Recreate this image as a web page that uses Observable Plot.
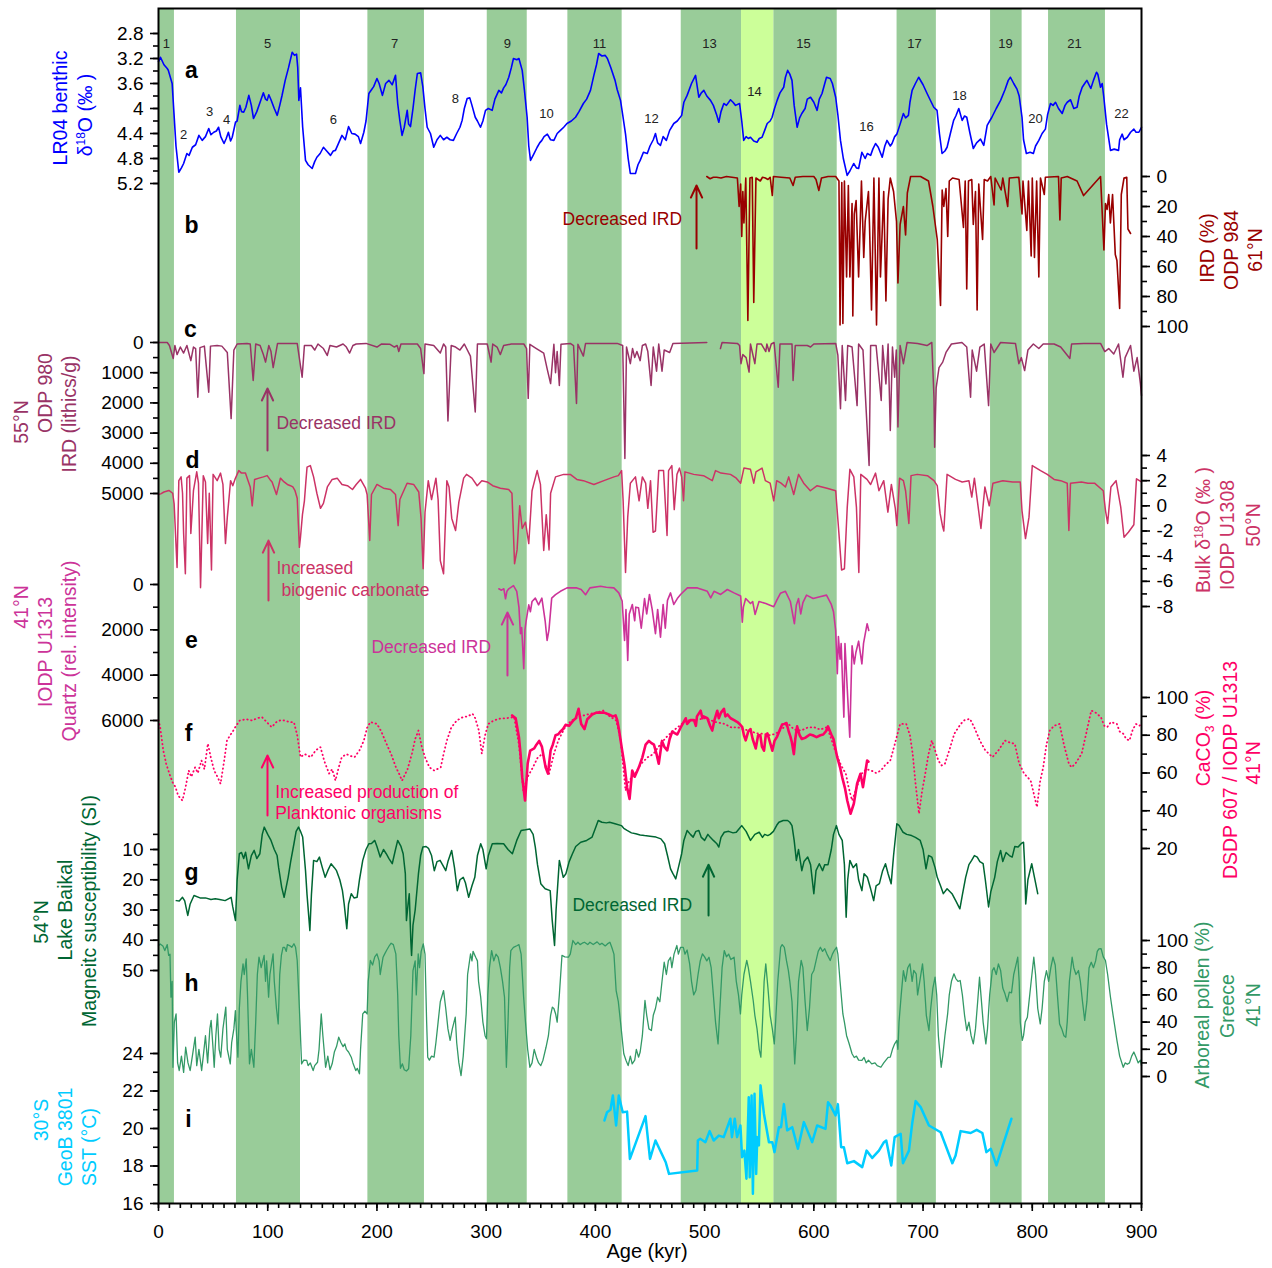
<!DOCTYPE html>
<html><head><meta charset="utf-8">
<script src="https://cdn.jsdelivr.net/npm/d3@7"></script>
<script src="https://cdn.jsdelivr.net/npm/@observablehq/plot@0.6"></script>
<style>
body{margin:0;background:#fff;}
#chart{position:relative;width:1272px;height:1268px;font-family:"Liberation Sans",Arial,sans-serif;}
#chart svg{position:absolute;left:0;top:0;overflow:visible;font-family:"Liberation Sans",Arial,sans-serif;}
.ttl{position:absolute;white-space:nowrap;font-size:19.5px;line-height:1;transform:translate(-50%,-50%) rotate(-90deg);}
.ttl sup,.ttl sub{font-size:12px;}
</style>
</head><body><div id="chart"></div>
<script>
// ---------- DATA ----------
const interglacials = [[0,14.6],[71.4,130],[191.7,243.5],[301,337.6],[374.8,424.5],[478.6,533.8],[563.3,621.4],[676.2,712.2],[761.8,790.7],[814.9,867]];
const mis14 = [[533.8,563.3]];
const misLabels = [["1",7.3,2.96],["2",22.9,4.42],["3",46.7,4.06],["4",62.3,4.18],["5",99.8,2.96],["6",160.2,4.18],["7",216.1,2.96],["8",271.9,3.84],["9",319.5,2.96],["10",355.2,4.08],["11",403.8,2.96],["12",451.4,4.16],["13",504.5,2.96],["14",545.7,3.73],["15",590.5,2.96],["16",648.2,4.29],["17",692.2,2.96],["18",733.4,3.79],["19",775.5,2.96],["20",803,4.16],["21",838.7,2.96],["22",881.7,4.08]];

const lr04 = [[0,3.25],[1.8,3.18],[5,3.3],[8,3.36],[9,3.39],[12.5,3.6],[14,4.03],[16,4.6],[18.6,5.02],[21,4.95],[23,4.88],[26,4.72],[28,4.75],[31,4.62],[34,4.58],[37,4.43],[40,4.51],[43,4.45],[46,4.32],[48,4.42],[50.6,4.38],[53,4.36],[55,4.3],[57,4.45],[60,4.56],[62,4.48],[64,4.38],[66,4.52],[67.5,4.46],[70.5,4.22],[72,4.2],[74.5,3.95],[76,4.05],[78,4.06],[80,3.98],[82.7,3.79],[85,3.95],[87,4.16],[90,4.05],[93,3.9],[96,3.75],[98,3.85],[99.5,3.87],[101,3.78],[103,3.86],[106,4.0],[108.7,4.11],[111,3.95],[113,3.8],[116,3.55],[119,3.35],[122.4,3.1],[124.5,3.15],[126.4,3.13],[127.5,3.35],[128.5,3.87],[130,3.67],[132,4.3],[134.6,4.83],[137,4.9],[140.7,4.96],[143,4.85],[145,4.78],[148,4.72],[151,4.62],[154,4.68],[157.5,4.75],[160,4.68],[162,4.67],[165,4.55],[168,4.43],[171,4.5],[174,4.29],[177,4.4],[180,4.41],[183,4.45],[185,4.56],[188,4.38],[190,4.2],[192.6,3.76],[195,3.7],[197,3.65],[200,3.52],[202,3.6],[205,3.79],[208,3.6],[211,3.55],[214,3.62],[217,3.47],[219,3.92],[221,4.2],[223,4.43],[225,4.3],[227.7,4.03],[229,4.25],[230.7,4.29],[233,4.0],[235,3.7],[237,3.44],[240,3.43],[242,3.65],[244,4.0],[246,4.3],[249,4.4],[252,4.62],[255,4.5],[258,4.43],[261,4.5],[264,4.46],[267,4.5],[270,4.51],[273,4.4],[276,4.3],[278,4.19],[280,4.0],[282.6,3.84],[285,3.83],[287,3.95],[290,4.14],[292,4.2],[294.8,4.3],[297,4.2],[299.4,4.03],[302,4.0],[305.5,4.03],[308,3.85],[311.6,3.71],[314,3.75],[316,3.67],[318,3.62],[320.7,3.5],[323,3.35],[325,3.2],[328,3.22],[330,3.2],[333,3.39],[335,3.7],[337.5,4.14],[339,4.6],[340.6,4.83],[343,4.75],[346.7,4.62],[349,4.55],[351,4.51],[353,4.45],[356,4.41],[359,4.5],[362,4.51],[365,4.4],[368,4.35],[371,4.3],[374,4.24],[378,4.2],[381.8,4.14],[385,4.05],[389,3.92],[392,3.85],[395.5,3.71],[398.6,3.47],[401,3.3],[403,3.12],[406,3.16],[409,3.15],[411,3.2],[414,3.34],[418,3.55],[420,3.7],[423,3.87],[425,4.1],[427.6,4.41],[430,4.8],[432,5.04],[436.7,5.04],[439,4.9],[441,4.83],[444,4.7],[447.5,4.72],[450,4.6],[453,4.5],[455,4.4],[457,4.55],[459.6,4.59],[462,4.45],[465,4.51],[468,4.35],[471.8,4.24],[475,4.2],[479,4.11],[481,3.9],[484,3.79],[488,3.6],[491.7,3.47],[494.7,3.82],[497,3.75],[499.3,3.71],[502,3.8],[505.4,3.87],[508,3.95],[511,4.1],[513,4.22],[515,4.05],[517.6,3.92],[520,3.95],[523.7,3.86],[526,3.9],[528.3,3.95],[532,3.92],[534,4.2],[535.8,4.51],[538,4.45],[540,4.48],[542,4.46],[545,4.52],[548,4.54],[550,4.48],[552.6,4.46],[555,4.35],[557.3,4.24],[560,4.2],[561.8,4.14],[564,4.0],[566.4,3.87],[569,3.75],[572.4,3.66],[574,3.5],[576,3.39],[578,3.45],[580,3.55],[582,3.95],[584.7,4.3],[587,4.15],[589,4.08],[592,4.0],[594,3.85],[597,3.82],[600,3.9],[603,4.03],[605,3.85],[607.5,3.76],[610,3.6],[611.6,3.5],[615,3.52],[617,3.6],[620,3.82],[622,4.1],[624.4,4.51],[627,4.8],[630.5,5.07],[633,5.0],[636.5,4.88],[639,4.95],[641,4.96],[644,4.7],[647,4.8],[649,4.72],[652,4.75],[654,4.65],[656.5,4.56],[659,4.62],[662.6,4.78],[665,4.6],[667,4.51],[670,4.6],[671.6,4.56],[674,4.45],[676,4.41],[679,4.25],[682,4.08],[684,4.15],[686.6,4.11],[688,3.9],[690,3.71],[693,3.6],[696,3.5],[700,3.62],[703.7,3.76],[707,3.88],[709.8,3.98],[712.8,4.03],[715,4.4],[717.4,4.72],[720,4.68],[722,4.62],[725,4.4],[728,4.19],[730,4.12],[732.7,4.0],[735.8,4.19],[738,4.12],[740,4.14],[743,4.4],[746,4.64],[749,4.55],[752.6,4.49],[755.6,4.59],[758.7,4.27],[761,4.2],[763,4.14],[767,4.0],[771,3.87],[775,3.7],[778,3.55],[780,3.5],[783,3.6],[786,3.69],[788,3.8],[790.6,4.14],[792,4.5],[794.6,4.72],[798,4.7],[801,4.72],[803,4.6],[806,4.51],[809,4.4],[812,4.33],[814,4.1],[816.7,3.92],[819,3.95],[821.3,3.9],[824,4.0],[827.4,4.08],[830,3.95],[832,3.9],[835,3.86],[838,4.0],[841,3.98],[843,3.8],[845.7,3.66],[848,3.6],[850,3.55],[853.6,3.68],[856,3.55],[858.8,3.42],[860,3.45],[862.5,3.66],[864,3.6],[865.5,3.82],[868,4.25],[871.6,4.67],[875,4.65],[879,4.67],[880,4.5],[882.3,4.41],[884,4.5],[887,4.46],[890,4.38],[893,4.33],[895,4.38],[897.6,4.38],[900,4.3]];

const ird984 = [[502,0],[505,1.5],[508,0.5],[511,0.5],[515,1],[520,0],[525,0.5],[530,1],[531.6,20],[533,5],[534,40],[535,10],[536,31],[537.7,1],[539.6,96],[541.5,1],[543.6,0.5],[545,84],[547,1],[549,2],[551,3],[553,0.5],[555.6,1],[558,2],[560,0.5],[562,12.7],[563,0],[570,0.5],[578,1],[581,6],[583,0.5],[590,0],[600,0],[602,2],[604.6,9.3],[607,1],[613,0],[620,0],[623,3],[624,99],[625.6,4],[626.6,98],[628,3],[630,67],[631.6,6],[633,67],[635,18],[635.7,93],[637,25],[638.7,16],[641,67],[643.6,3],[645.7,54],[647,30],[650,10],[651,33],[652.8,89],[655,1],[657.4,99],[659.6,1],[661,67],[664,10],[666,83],[668,15],[670,1],[673,10],[675.7,30],[677,71],[679,32],[682,20],[684,39],[685.6,11],[688.6,0],[697.7,0],[705,3],[709,20],[713,42],[716,86],[717.5,9],[719,20],[721,8],[722.6,40],[724,3],[727,1],[733,2],[737,34],[738.6,3],[740,75],[741.6,3],[744.6,2],[746,32],[748,10],[749.5,89],[751,5],[754.5,42],[756,2],[759,3],[762,0],[765,19],[766,1],[771.5,9],[773,1],[777.5,20],[779,1],[787.7,0.5],[790.6,25],[791.5,3],[795,36],[796.5,3],[799,53],[800,1],[802,54],[804,3],[806,67],[807.5,1],[811,12],[812,0.5],[824,0],[825.3,29],[826.5,1],[832,0],[841,3],[847,12.7],[862.5,0],[865.6,49],[867,18],[868.5,22],[870,12],[871.5,31],[873.5,12],[876,52],[877.5,56],[880,88],[881.5,12],[884,1],[886.5,0.5],[887.6,35],[890,38]];

const odp980 = [[0,0],[8,0],[10,100],[13.5,530],[15,100],[17,400],[20,150],[23,350],[26,100],[29.6,600],[32,150],[34,200],[36,1810],[38,170],[42,120],[46,1645],[47.6,120],[53.7,100],[58,120],[63,330],[66.5,2520],[69,250],[72,50],[81,30],[84,50],[86.7,1260],[89,50],[93,100],[96,400],[98,650],[101,100],[103,300],[105,830],[109,30],[127,30],[131.5,1150],[133.6,100],[140,100],[143,250],[146,50],[151,200],[154.5,430],[157,100],[163,150],[169,50],[172,150],[175,350],[178,100],[181,50],[190,30],[200,150],[204,50],[212,60],[216,150],[218.5,100],[220,300],[222,50],[237,50],[240,200],[243,1030],[244,50],[252,100],[258,350],[261,50],[263,150],[265,2600],[268,100],[272,150],[276,250],[280,50],[285.6,450],[290,2300],[292,50],[301,50],[304.5,650],[306,50],[310,150],[313,400],[316,100],[323,50],[334.5,50],[337,200],[338.5,1850],[340,60],[346,200],[352.7,350],[356,900],[359,1360],[362,60],[363.5,1000],[365,300],[367,1420],[368.5,60],[377,30],[380,100],[382.7,2020],[384,60],[389,450],[391,30],[420,30],[425,100],[427,3840],[428.5,150],[432,700],[434,200],[436,500],[438,300],[441,600],[443,100],[446,50],[448,300],[451,1420],[453,150],[456,950],[458,50],[461,950],[463,250],[468,330],[471,30],[502,0],[508,NaN],[514.5,200],[516,0],[530,30],[532,100],[533.3,700],[535,400],[538,500],[540.7,980],[542,50],[546,700],[548,50],[552,50],[556,300],[557,50],[559,300],[561,50],[563.6,0],[567.4,1480],[569,50],[580,50],[581,1260],[583,100],[594,100],[597,150],[600,50],[620,30],[622,420],[624.4,2190],[626,100],[629,1920],[631,100],[635,150],[639.6,2090],[641,50],[645,250],[650.6,4070],[652,100],[657,100],[661.7,1920],[663,100],[666,1370],[668,50],[670,2910],[672,150],[674,1150],[675.5,250],[677,2800],[679,100],[682,700],[685.4,0],[695,30],[703.6,100],[708,0],[710,1810],[710.6,3470],[712,1500],[714.6,830],[718,650],[721,330],[726,50],[735.6,0],[740,150],[743.5,1810],[745,250],[749,950],[752,150],[756,50],[760,2090],[762,50],[765,330],[771,0],[784.6,30],[787.7,700],[790,500],[793,930],[796,250],[801,50],[806,200],[810,50],[820,50],[826,150],[834.4,530],[836,50],[847,30],[862.5,30],[866.4,300],[870,200],[874.6,380],[879,50],[883,1150],[885,500],[890,100],[893,950],[896,500],[899,1360],[900,1750]];

const u1308 = [[0,0.9],[2,0.95],[5,1.1],[9.5,1.22],[13,1.0],[14.3,0.18],[17,-4.9],[18.6,2.0],[20.7,2.3],[22,1.0],[23,-2.2],[24.6,-5.4],[26,2.2],[28.4,2.4],[29.6,-2.2],[32,1.2],[35,2.7],[36.6,1.8],[38.5,-6.5],[41,2.4],[43,1.9],[45,-3.0],[46.5,1.0],[48.5,-5.1],[50,2.5],[53.7,2.0],[56.8,2.6],[59,1.7],[61.3,-3.0],[63,-0.9],[66,2.0],[68,1.6],[70,2.1],[73.5,2.8],[76,2.6],[79.6,2.6],[82,2.0],[84,1.5],[85.8,0.0],[88,2.1],[92,2.2],[96,2.3],[99.5,2.4],[102,2.1],[104,1.9],[106,1.4],[108,0.9],[110,1.6],[111.6,2.2],[115,1.9],[118,1.7],[120.8,1.6],[123,1.5],[125,1.2],[127,0.6],[129,-3.3],[130,-2.5],[131.8,-0.7],[133.6,0.4],[135,2.0],[136,3.07],[139,3.2],[142,2.3],[145,1.0],[148.3,-0.2],[151,0.2],[154.6,1.5],[159,2.1],[163.6,2.2],[168,1.7],[173,1.6],[177.6,1.3],[181,1.7],[185,2.1],[189.5,1.4],[191,0.9],[193.4,-2.76],[195,0.9],[200,1.7],[206,1.4],[212.4,1.3],[217,0.9],[219.4,-1.57],[221,0.5],[223,0.9],[227.6,1.8],[233.6,1.7],[238.3,1.1],[240.4,-1.0],[242.3,-5.0],[244,-0.5],[247,2.0],[250,0.5],[254,2.2],[256,0.5],[258,-4.35],[261,-5.4],[264,2.0],[266,1.5],[268.5,-1.0],[272,-1.96],[275,0.3],[279.4,2.2],[282,2.5],[287,2.2],[291.8,1.6],[296,2.0],[301,1.9],[306,1.6],[313,1.4],[320.6,1.3],[323.6,1.0],[326,-4.6],[328.3,-3.5],[330.7,0.0],[333,-1.8],[336,-1.3],[339,-3.0],[342,1.2],[346.7,2.8],[349.7,1.7],[352.7,-3.55],[355,-0.7],[357.6,-3.5],[359,1.0],[363.5,2.3],[371,2.5],[377,2.5],[383,2.1],[389,2.0],[398.6,1.7],[407.8,2.0],[417,2.3],[421,2.4],[424,2.8],[425.4,0.4],[427.6,-5.3],[429.6,-0.9],[432,1.8],[436.7,2.3],[440,0.4],[443,2.3],[446,1.8],[448,-0.2],[450.5,2.0],[452.8,-2.1],[455,-2.0],[458,2.8],[462.4,2.8],[465.6,-2.36],[467,2.8],[470,3.2],[472.2,-0.3],[474.7,2.5],[477,3.0],[479,2.3],[480.7,0.4],[482,2.7],[490,2.5],[499,2.4],[507,2.0],[510,2.8],[515,2.6],[523.7,2.5],[529,2.2],[533,1.8],[536,3.0],[542,2.9],[545,1.8],[547,2.7],[552.6,3.0],[555.6,2.0],[560,1.8],[563.3,0.4],[566,2.0],[570,1.8],[574,1.5],[577,2.3],[581.6,0.9],[586,2.5],[590.7,1.8],[596.8,1.2],[603,1.6],[612,1.4],[620,1.2],[623,-2.23],[625.4,-5.1],[628,-5.0],[630.6,-0.1],[633,2.9],[636.6,2.3],[639,-0.1],[641.2,-5.3],[643,2.5],[648.7,2.1],[652,1.7],[656.5,2.6],[659.6,1.2],[664,2.0],[667.8,-0.5],[671,1.7],[674.6,-0.2],[676,-1.57],[678.5,2.2],[682,2.0],[684,1.2],[687,-1.4],[689,2.4],[694.7,2.5],[704,2.4],[710,2.0],[713,1.6],[715.6,-0.6],[717.8,-1.6],[719,-2.0],[722,2.5],[729.7,2.1],[735.8,1.9],[742,2.0],[744.6,0.7],[747,2.2],[753,-1.8],[756.6,1.5],[760.6,0.0],[764,1.8],[773,2.0],[782,1.9],[789,1.9],[790.6,-0.4],[793.8,-2.6],[797,-0.9],[800,3.2],[807.6,2.8],[813.7,2.5],[820,2.1],[826,2.0],[832,1.8],[833.5,-1.96],[835,1.8],[845,1.9],[851,1.8],[857,1.8],[865,1.2],[867,-0.37],[869,-1.4],[872,1.5],[876.7,2.0],[881,-0.1],[884,-2.5],[888,-2.1],[893,-1.5],[895.4,2.15],[900,1.9]];

const quartz = [[311.6,190],[314,250],[316.2,190],[317.7,630],[319,300],[320.7,190],[325,50],[328,300],[330,1000],[331.4,2170],[332.5,1900],[333.5,2800],[334.4,3720],[335.5,2000],[336.6,1600],[339,900],[340.5,1200],[342,750],[345,600],[348,900],[351,600],[354,1600],[355.8,2470],[357.5,2000],[360,600],[363.5,450],[368,300],[374,150],[383,150],[387,220],[391,450],[395,150],[404.7,80],[410,120],[416.9,150],[421.4,370],[424.5,730],[426.7,2470],[428,1100],[429.6,3350],[431,1300],[433.8,880],[436,1600],[437,1000],[439.5,1030],[442,1930],[445,620],[447,1300],[449.5,440],[452,1100],[455,2170],[457,1100],[459.6,2320],[462,880],[464,1930],[466,700],[468.8,370],[471.8,880],[475,620],[478,440],[484.2,150],[493.4,150],[502.5,300],[505.6,590],[508.6,300],[514.7,440],[520.8,220],[526.9,370],[533,510],[534.5,1660],[535.5,1000],[537.6,620],[542,840],[544,750],[546.2,1320],[549.8,750],[556,840],[563.3,980],[566,700],[569.4,390],[574,300],[578.5,750],[582.2,1730],[584,900],[586,620],[588,1300],[590,800],[593.3,470],[599.4,620],[605.5,540],[611.6,470],[616,880],[618,1200],[620,2030],[621.5,3940],[622.5,2300],[624,3300],[625,2600],[627.5,5850],[628.5,2600],[630.6,4600],[632.9,6740],[635,2700],[637,3500],[638.5,3000],[641,2500],[644,3500],[645.5,2600],[648.8,1730],[650.3,2030]];

const caco3Solid = [[323.8,90.5],[327,89],[330,79],[331.5,70],[333,57.8],[335.6,45.4],[338,65],[340.3,71.9],[344,73],[346,75],[348.5,77],[351,74],[354.4,63],[356.6,59.7],[359,72],[361,75],[363.5,80],[366,80.5],[368,82],[370,83],[372.7,85.5],[376,85],[380,88],[382,89],[384.6,94],[387,86],[390,83.3],[392.6,88.5],[397,91],[401,92],[404.7,92],[408,92],[412.4,91],[416,90],[418.5,90.5],[420,88],[421.5,83.3],[424.5,72],[426.7,64],[429,52.5],[431.3,46.3],[433.7,61.3],[436,58],[439.8,63],[443,68.3],[446,75],[449,77],[451,76],[453.6,75],[456,70],[458,64.9],[461,77],[463,74],[465.8,72],[468,78],[470.4,82],[473,81],[475,80.4],[478,84],[482.7,89],[484,86],[487,88],[490.3,88],[492,85],[493,90],[496.4,93],[498,89],[499,90],[502.5,89],[505,85],[507,82.5],[509,88],[511.6,93],[513,89],[515,92],[517.7,94],[519,90],[521,91],[523.8,89],[527,88],[530,87],[532,86],[534.5,84.3],[536,80],[537.6,77.3],[540,82],[542,83.3],[544,78],[546.8,73],[549,80],[551,80],[552.5,74],[554.4,71.8],[556,80],[557.5,81],[560,76],[562,71.8],[564,77],[566.4,79.3],[569,83],[571,85.7],[573,86],[575,86.5],[577,82],[578.6,79.3],[580,76],[581.7,70],[583,78],[584.7,84.7],[587,80],[589,78],[592,78.6],[596.4,80.4],[599,80],[602.5,79],[606,80],[608.6,80.4],[611,82],[613,84.7],[616,80.4],[618,78],[621.4,68.4],[624,63],[626,57.7],[628.5,52],[630.6,45.4],[633.6,38.4],[636.6,43.7],[639.6,54.3],[642.7,59.6],[645,52.5],[647,60],[648.8,66.6],[650,66]];

const caco3Dotted = [[0,88],[1.5,84.3],[4.4,71.9],[7,65],[10,59.6],[13,55],[15.6,52.5],[18,48],[21.9,45.4],[24.8,52.5],[27.7,61.3],[30,58],[33.5,63],[36,60],[39.4,66.6],[42,62],[45.2,75.5],[48,68],[51,61.3],[54,58],[56.8,54.3],[60,66],[62.7,77.2],[65.6,80],[68.5,82.5],[71,85],[74.4,87.8],[80,88.5],[86,87.8],[90,89],[94.8,89.6],[99,87],[103.6,84.3],[108,87],[112,88],[115.3,87.8],[120,87],[124,86.9],[127,80],[130,68.4],[134,70],[139.5,68.4],[144,72],[148.3,73.7],[152,66],[156.2,59.7],[159,62],[162,56],[165,63],[167.8,68.4],[172,70],[176,69],[179.5,68.4],[184,72],[188,77.2],[191,84],[194,87],[200,86],[204,82],[208.7,75.5],[213,70],[217.4,63],[220,60],[223,56],[228,62],[232,70.2],[235,78],[238,82.5],[241,74],[244,68.4],[248,63],[252.5,61.3],[258.4,63],[261,70],[264,77.2],[268,84],[273,87.8],[278.7,89.6],[283,90],[287.5,91.4],[290,89],[293.3,82.5],[296,70.2],[299,80],[302,86],[306,87.5],[311,88.7],[318,89],[325.6,89.6],[330,75],[334,50.7],[338,58],[342.8,63],[347,68],[351.6,70.2],[354,65],[357.6,59.6],[362,70],[366,77.2],[372,84],[378,87.8],[386,90],[395.5,91.4],[401,92],[407,93.1],[413,90],[419,87.8],[423,78],[427.6,50.7],[431,56],[436.3,59.6],[442,65],[448,68.4],[453,70],[459.8,75.5],[465,79],[471.5,82.5],[477,85],[483,87.8],[490,88],[500.8,89],[510,87],[518.3,86],[525,84],[530,84.3],[536,83],[541.7,82.5],[547,81],[553.4,80.8],[560,80],[565,80.8],[570,83],[576.7,86],[582,83],[588.4,82.5],[594,84],[600,84.3],[606,83],[612,84.3],[616,78],[620.5,70.2],[625,64],[629.3,59.6],[632,52],[635,45.4],[639,52],[643.8,59.6],[648,62],[652.6,61.3],[657,60],[661.4,61.3],[665,64],[670,66.6],[674,75],[679,86],[684.6,86],[688,80],[690.5,70.2],[693,55],[696.3,38.4],[699,50],[702,59.6],[705,70],[708,77.2],[711,72],[714,66.6],[717,64],[720,64.9],[724,72],[728.6,80.8],[734.5,86],[738,88],[743,88.7],[747,84],[752,77.2],[757,72],[763.5,68.4],[769,72],[775,77.2],[780,76],[784,75.5],[788,65],[792.6,59.6],[798.5,56],[801,50],[804.3,41.9],[807,55],[810,63],[813,75],[816,82.5],[820,85],[825,86],[829,75],[833.5,64.9],[836,63],[839.4,64.9],[845.2,70.2],[849,80],[854,93.1],[858,92],[862.8,89.6],[866,85],[868.6,84.3],[872,87],[877.4,86],[880,82],[883.3,80.8],[886,78],[889,77.2],[892,83],[895,86],[898,85],[900,86]];

const baikal = [[16.3,26.9],[19,27],[22,25.8],[24,27],[26.8,31.8],[29,28],[32.5,25.2],[38,26],[43,26],[48,26.5],[52,26.3],[56,26.5],[61,26.9],[66.5,25.8],[68,29],[70.5,33.5],[72,20],[74,11.4],[76,11],[78,13],[79.7,10.9],[82.4,16.4],[85,12],[87.6,10.3],[90,13],[92.8,11.4],[95,5],[96.8,2.6],[100,5],[103,7],[106,10],[108.6,12],[110,16],[112.8,22.5],[115,25.8],[118.7,19.2],[121,14],[124,8.1],[126,4],[128.2,2.6],[130,4],[132,5.9],[134.6,17],[136,25],[138.6,36.8],[140,25],[142,13.6],[145,14],[147.3,12.5],[150,16],[152.6,19.2],[155,17],[158,14.7],[161,16],[163,17],[166,20],[168.4,23.6],[170,28],[172.4,36.2],[174,28],[176.5,24.6],[179,26],[181.8,25.8],[184,20],[187,13.6],[190,10],[192.6,8.1],[195,8],[198,7],[200,9],[203,12.5],[206,10],[208.5,11.4],[211,13],[214,14.7],[217,10],[219,7],[222,9],[224,11.4],[226,18],[227,33.5],[228.5,28],[229.6,24.6],[231,40],[231.7,45],[233,35],[235,30],[238,18],[240,12],[242,9.2],[245,9],[247.2,9.6],[250,12],[252.5,17],[255,14],[257.8,13.6],[260,15],[263,17],[265,14],[268.4,10.3],[271,16],[273.6,23.6],[276,20],[279,19.2],[281,21],[284,25.8],[287,22],[289.6,19.2],[292,12],[295,8.1],[297,10],[300,16.4],[302,12],[305.6,8.1],[310,8],[316,8.1],[320,10],[324,11.4],[328,7],[332,3.7],[336,3.5],[340,3.2],[343,5],[345,9.2],[347,15],[350,21.3],[354,23],[358.6,23.6],[360.5,33.5],[362.6,41.7],[364,30],[367,13.6],[370.6,19.2],[373,18],[376,14],[379,11.4],[382,9],[386.6,7.6],[392,7],[397,5.9],[400,3],[402.6,0.4],[406,1],[410,1.2],[413,1],[418,1.5],[423.8,2.1],[426,3],[429,3.7],[433,4.5],[437,4.8],[441,5.2],[445,5.4],[450,5.6],[455.5,5.9],[460,6.5],[463.4,8.1],[466,12],[468.8,16.4],[471,18],[473.6,19.7],[476,16],[479,11.4],[481,7],[484,3.7],[487,5],[489.5,5.9],[492,4],[494.7,3.7],[497,6],[500,7],[503,5],[505,5.9],[508,7],[511,8],[513,9.2],[515,6],[518,4.3],[522,4],[526,4.5],[529,4.3],[532,3],[534,2.1],[538,4],[542,7],[546,5],[550,4.3],[553,6],[555,5],[557.8,5.4],[560,5],[563,4],[566,2],[568,1],[572,0.4],[576,0.4],[578,1],[580,2.1],[582,7],[584,13.6],[586,10],[589,17],[591,14],[594.4,12.5],[597,15],[600,24.6],[602,17],[605,14.7],[608,17],[610,15],[613,15],[616,10],[618,5],[620.7,2.1],[623,5],[626,7],[628,15],[629.6,32.4],[631,20],[633,13.6],[636,16],[639,14.7],[641,20],[644,23.6],[646,18],[649,19.2],[652,23],[654.8,26.9],[657,22],[660,21.3],[663,17],[665.6,14.7],[668,18],[670.8,21.3],[673,12],[676,1.5],[678,2],[681.7,4.3],[685,5],[689.5,5.4],[693,6],[697.4,7],[700,10],[702.7,16.4],[705,12],[708,12.5],[711,16],[713,19.2],[716,22],[718.6,24.6],[722,23],[726.5,24.6],[730,27],[733.7,29.6],[736,25],[739,19.2],[742,15],[744.5,13.6],[747,12],[749.6,12.5],[752,14],[755,14.7],[757,20],[760,29],[762,24],[765.6,19.2],[768,14],[771,10.3],[773,14],[776,11],[779,12],[781.6,12.5],[784,9],[787,9.2],[790,8],[792,7.6],[793,15],[794,28],[796,20],[799.5,14.7],[802,19.2],[805,24.6]];

const pollen = [[0,96],[1.5,97.5],[4,96],[5.8,92.6],[8,97],[9.3,89],[10.5,90],[11.4,58.3],[12.5,70],[13.2,6.8],[14.5,40],[16.1,46],[17.5,10],[19,4.4],[21,15],[23,3],[24.9,21.5],[27,10],[29,4.4],[31,15],[33.6,28.9],[35,8],[37,20],[39.5,4.4],[41,15],[43,30],[45,10],[47,35],[48.2,41.2],[50,20],[51,6.8],[52.5,30],[54,46],[55.5,20],[57,14.2],[59,35],[61.6,51],[63,20],[65.7,9.3],[67,25],[69,35],[70.4,48.5],[71.5,30],[72.7,14.2],[74,50],[75.5,70],[77.4,82.8],[78.5,75],[80.3,86.5],[81.5,60],[83.3,9.3],[85,20],[87.3,6.8],[89,40],[90.5,75],[92,87.7],[94,80],[96.7,89],[98,70],[99,85],[100.8,58.3],[102,75],[104.9,90.2],[106,70],[108,50],[109.6,38.7],[111,75],[112.5,89],[114,95],[115.4,95],[117,92],[118,97],[120,96.3],[122,95],[124,97.6],[125.5,95],[127,85.3],[129,50],[131,9.3],[133,12],[135.7,11.8],[137,8],[139,10],[141.6,4.4],[143,8],[145.6,10.5],[147,20],[149,46],[150.5,30],[153,6.8],[155,15],[157,5],[159,9.3],[161,18],[163,22],[165,28.9],[167,25],[169,22],[170.6,24],[172,20],[174,18],[176.5,14.2],[178,10],[180.6,4.4],[182,6],[184,2],[185,20],[187,46],[189,48],[191,46],[192,70],[194,85.3],[196,82],[198,88],[200,90.2],[202,85],[203,75],[205.6,87.7],[207,90],[209,93],[211.4,96.3],[213,98],[215,97],[217.3,90.2],[219,60],[220,30],[221.5,6],[223.3,9.3],[225,5],[227,4],[229,5.7],[231,30],[233,77.9],[235,85],[236,60],[237.8,90.2],[239,80],[240.5,92],[242.4,97.5],[244,90],[245.5,40],[246.5,14.2],[248,12],[250,15],[252.3,14.2],[254,25],[256,40],[258,55],[261,63.2],[263,50],[265,35],[267,26.5],[269,35],[271.7,43.6],[273,25],[275,10],[277,0.7],[279,15],[281.7,46],[283,75],[285.7,90.2],[287,85],[288,92],[290.4,87.7],[292,85],[293,70],[295,58.3],[297,40],[299,30],[300.3,27.7],[301.5,60],[303,80],[305,92.6],[307,85],[309,90],[311,87.7],[313,80],[315,70],[316.8,58.3],[318.5,6.8],[320,40],[321.5,80],[322.6,92.6],[325,95],[328.5,96.3],[330,97],[332,90],[334.3,58.3],[336,40],[338,20],[340,6.8],[342,10],[344,20],[346,14.2],[348,10],[350,8],[352,12],[354.8,21.5],[357,30],[359,45],[360.6,51],[362,50],[363.6,46],[365,40],[367,60],[369.4,89],[372,88],[375.3,87.7],[377,90],[379.4,100],[382,97],[384,98.7],[386,97],[388,98],[390,98.7],[393,97],[395,98.7],[398,97],[401.6,99],[404,97],[406,98],[409,96],[411,97.5],[413.3,98.7],[415,95],[417,90],[419,63.2],[421,55],[423,40],[426,16.7],[428,12],[430,8],[432,15],[433.7,9.3],[436,12],[437.5,20],[439.5,14.2],[441,18],[443,30],[445.4,55.9],[447,45],[449,35],[451.3,33.8],[453,45],[455,50],[457,58.3],[459,55],[461,70],[463,84],[465,75],[466.8,85],[468.8,87.7],[470,80],[472,90],[474.6,96.3],[476,90],[478,95],[480.5,95],[482,90],[484,93],[486.3,82.8],[488,70],[490,60],[492,63.2],[494,75],[496,85],[498,90.2],[500,88],[502,85],[504,87.7],[506,80],[508,60],[510,40],[512.3,24],[514,50],[516,80],[518,92.6],[520,88],[522,90],[524,86],[527,87.7],[529,70],[531,60],[532.8,46],[534,60],[536,75],[538.6,85.3],[540,80],[542,70],[544.5,55.9],[546,45],[548,35],[550,20],[551.5,14.2],[553,40],[554.5,70],[556,82.8],[558,65],[560,45],[562,35],[563.8,24],[565,40],[567,70],[569.6,95],[571,97],[573,95],[575,85],[576.7,77.9],[578,70],[580,55],[582.5,9.3],[584,30],[586,70],[588.4,85.3],[590,80],[592,55],[594,33.8],[596,50],[598,75],[600,77.9],[602,85],[604,92],[606,95],[608,92],[610,94],[612,90],[615,85.3],[617,90],[619,93],[620.8,95],[622,90],[624,70],[626.6,46],[628,40],[630,30],[632,25],[635,16.7],[637,14],[639,15],[641,12],[644,11.8],[646,14],[648,10],[650,12],[653,9.3],[656,10],[658,8],[661.4,6.8],[664,10],[666,12],[668,14],[670,14.2],[672,20],[674,24],[676,26.5],[677,20],[678,40],[680,60],[682,77.9],[684,70],[686,80],[688,82.8],[690,70],[691.5,78],[693.7,75.5],[695,60],[697,70],[699.5,82.8],[701,70],[703,45],[705.4,33.8],[707,50],[709,65],[711,73],[712.5,60],[714,30],[716.6,6.8],[718,15],[720,30],[722.5,46],[724,60],[726,70],[728.3,75.5],[730,72],[732,70],[734,70.6],[736,60],[738,45],[740,33.8],[742,40],[744,30],[746,24],[748,35],[750,55],[751.7,73],[753,60],[755,40],[757.5,24],[759,35],[761,60],[763.4,77.9],[765,80],[767,75],[769,82.8],[771,78],[773,65],[775,60.8],[777,55],[779,62],[781,61.5],[783,75],[784.5,80],[786.7,87.7],[788,70],[789,40],[790.8,26.5],[792,30],[793.5,40],[795.5,43.6],[797,55],[799,70],[801.4,87.7],[803,75],[805,50],[807.3,38.7],[809,50],[811,70],[813,77.9],[815,70],[817,80],[819,87.7],[821,82],[823,60],[825,38.7],[827,35],[829,30],[830.7,28.9],[832,40],[834,70],[836.5,87.7],[838,80],[840,75],[842.3,77.9],[844,70],[846,55],[848,41.2],[850,55],[852,80],[854,84],[856,80],[858,85],[859.5,92],[861,93.9],[863,94],[865,88],[867,85.3],[869,75],[871.6,58.3],[874,45],[877.5,26.5],[880,15],[883.3,6.8],[885,10],[887,9],[889,10],[891,15],[893,18],[895,14.2],[897,10],[899,12],[900,8]];

const sst = [[408.3,20.43],[410.7,20.87],[413.8,21.0],[416,21.76],[419,20.16],[421.4,21.76],[425,20.87],[429,20.9],[431.6,18.38],[445.9,20.66],[450,18.38],[455,19.36],[464.4,18.2],[467.4,17.58],[493.2,17.76],[493.8,19.36],[496,19.45],[500.7,19.27],[504.6,19.86],[508.3,19.36],[513,19.62],[517.5,19.54],[523.6,20.52],[525,19.54],[527.6,20.52],[529.7,19.54],[532.8,20.16],[534.3,18.47],[536.4,18.82],[538.3,17.32],[540.4,21.67],[541.3,17.4],[543,21.76],[544.2,16.52],[545.7,21.85],[547.2,17.58],[548.2,19.54],[549.7,19.1],[551.2,22.3],[554.3,20.79],[558.9,19.27],[562,19.27],[564,18.74],[568,20.07],[570,20.07],[572.6,21.3],[575.6,19.9],[580.2,20.07],[585.4,18.92],[590.9,20.34],[598.5,19.27],[603,20.16],[610.7,19.98],[613,21.4],[615.3,21.22],[619.9,20.7],[622,21.3],[625,19.0],[627.5,19.0],[630.6,18.15],[636.7,18.26],[644.3,17.94],[648.3,18.82],[653.5,18.43],[659.6,18.82],[664.2,19.27],[666.3,19.36],[670.9,18.03],[674,19.54],[679.5,19.72],[681.6,18.15],[687.1,18.82],[690,20.25],[693.2,21.46],[697.8,21.14],[705.4,20.16],[716.1,19.8],[726.8,18.15],[729.8,18.56],[734.4,19.86],[743.6,19.76],[749.1,19.93],[754.3,19.76],[758,18.74],[762,18.92],[767.2,18.03],[780.9,20.52]];

// ---------- CHART ----------
const chart = document.getElementById("chart");
const W = 1272, H = 1268;
const X = d => d[0], Y = d => d[1];

function addLayer(marks, y) {
  const svg = Plot.plot({
    width: W, height: H, marginLeft: 158, marginRight: 131, marginTop: 8, marginBottom: 65,
    x: {domain: [0, 900], axis: null},
    y: y ? {...y, axis: null} : {axis: null},
    marks
  });
  svg.style.background = "transparent";
  svg.style.position = "absolute";
  svg.style.left = "0"; svg.style.top = "0";
  svg.style.overflow = "visible";
  svg.style.maxWidth = "none";
  chart.appendChild(svg);
}
const fmtNum = d => (d < 0 ? "-" + Math.abs(d) : String(+d.toFixed(1)));

function addPanel(p) {
  const marks = [
    Plot.axisY({anchor: p.anchor, ticks: p.minor, tickSize: 5, tickFormat: () => "", label: null, strokeWidth: 1.6}),
    Plot.axisY({anchor: p.anchor, ticks: p.major, tickSize: 8, tickPadding: 7, tickFormat: fmtNum, label: null, fontSize: 19, strokeWidth: 1.6, fill: "black"}),
    ...p.marks
  ];
  if (p.letter) marks.push(Plot.text([p.letter], {x: d => d[1], y: d => d[2], text: d => d[0], fontSize: 23, fontWeight: "bold", fill: "black"}));
  if (p.notes) marks.push(Plot.text(p.notes, {x: d => d[0], y: d => d[1], text: d => d[2], fontSize: 17.5, fill: p.color, textAnchor: "start"}));
  if (p.arrow) marks.push(Plot.arrow([p.arrow], {x1: d => d[0], x2: d => d[0], y1: d => d[1], y2: d => d[2], stroke: p.color, strokeWidth: 2, headLength: 10, headAngle: 50}));
  addLayer(marks, {domain: p.domain, range: p.range});
}

// background bands
addLayer([
  Plot.rect(interglacials, {x1: d => d[0], x2: d => d[1], fill: "#99cc99"}),
  Plot.rect(mis14, {x1: d => d[0], x2: d => d[1], fill: "#ccff99"})
]);

const R = (a, b, s) => d3.range(a, b + s / 2, s).map(v => +v.toFixed(3));

// a
addPanel({anchor: "left", domain: [2.8, 5.2], range: [33, 183], minor: R(2.8, 5.2, 0.2), major: R(2.8, 5.2, 0.4), color: "#0000ff",
  letter: ["a", 30.2, 3.39],
  marks: [
    Plot.line(lr04, {x: X, y: Y, stroke: "#0000ff", strokeWidth: 1.6}),
    Plot.text(misLabels, {x: d => d[1], y: d => d[2], text: d => d[0], fontSize: 13, fill: "#222"})
  ]});
// b
addPanel({anchor: "right", domain: [0, 100], range: [176, 326], minor: R(0, 100, 10), major: R(0, 100, 20), color: "#990000",
  letter: ["b", 30.2, 32.7], notes: [[369.9, 28.7, "Decreased IRD"]], arrow: [492.6, 48, 6],
  marks: [Plot.line(ird984, {x: X, y: Y, stroke: "#990000", strokeWidth: 1.6})]});
// c
addPanel({anchor: "left", domain: [0, 5000], range: [342, 493], minor: R(0, 5000, 500), major: R(0, 5000, 1000), color: "#993366",
  letter: ["c", 29.3, -430], notes: [[108, 2680, "Decreased IRD"]], arrow: [99.8, 3575, 1520],
  marks: [Plot.line(odp980, {x: X, y: Y, stroke: "#993366", strokeWidth: 1.5})]});
// d
addPanel({anchor: "right", domain: [-8, 4], range: [606, 455], minor: R(-8, 4, 1), major: R(-8, 4, 2), color: "#cc3366",
  letter: ["d", 31.1, 3.6], notes: [[108, -4.98, "Increased"], [112.6, -6.73, "biogenic carbonate"]], arrow: [100.7, -7.53, -2.76],
  marks: [Plot.line(u1308, {x: X, y: Y, stroke: "#cc3366", strokeWidth: 1.5})]});
// e
addPanel({anchor: "left", domain: [0, 6000], range: [584, 720], minor: R(0, 6000, 1000), major: R(0, 6000, 2000), color: "#cc3399",
  letter: ["e", 30.2, 2470], notes: [[195, 2780, "Decreased IRD"]], arrow: [319.5, 4010, 1235],
  marks: [Plot.line(quartz, {x: X, y: Y, stroke: "#cc3399", strokeWidth: 1.6})]});
// f
addPanel({anchor: "right", domain: [20, 100], range: [848, 697], minor: R(20, 100, 10), major: R(20, 100, 20), color: "#ff0066",
  letter: ["f", 27.5, 80.9], notes: [[107, 49.6, "Increased production of"], [107, 38.5, "Planktonic organisms"]], arrow: [99.8, 37.5, 69.3],
  marks: [
    Plot.line(caco3Dotted, {x: X, y: Y, stroke: "#ff0066", strokeWidth: 1.8, strokeDasharray: "0.5,3.5", strokeLinecap: "round"}),
    Plot.line(caco3Solid, {x: X, y: Y, stroke: "#ff0066", strokeWidth: 2.6})
  ]});
// g
addPanel({anchor: "left", domain: [10, 50], range: [849, 970], minor: R(5, 50, 5), major: R(10, 50, 10), color: "#006633",
  letter: ["g", 30.2, 17.6], notes: [[379, 28.5, "Decreased IRD"]], arrow: [503.6, 31.8, 15],
  marks: [Plot.line(baikal, {x: X, y: Y, stroke: "#006633", strokeWidth: 1.5})]});
// h
addPanel({anchor: "right", domain: [0, 100], range: [1076, 940], minor: R(0, 100, 10), major: R(0, 100, 20), color: "#339966",
  letter: ["h", 30.2, 68.4],
  marks: [Plot.line(pollen, {x: X, y: Y, stroke: "#339966", strokeWidth: 1.3})]});
// i
addPanel({anchor: "left", domain: [16, 24], range: [1203, 1053], minor: R(16, 24, 1), major: R(16, 24, 2), color: "#00ccff",
  letter: ["i", 27.5, 20.48],
  marks: [Plot.line(sst, {x: X, y: Y, stroke: "#00ccff", strokeWidth: 2.5})]});

// frame + x axis on top
addLayer([
  Plot.frame({stroke: "black", strokeWidth: 2}),
  Plot.axisX({anchor: "bottom", ticks: R(0, 900, 10), tickSize: 5, tickFormat: () => "", label: null, strokeWidth: 1.6}),
  Plot.axisX({anchor: "bottom", ticks: R(0, 900, 100), tickSize: 8, tickPadding: 13, label: null, fontSize: 19, strokeWidth: 1.6, fill: "black"}),
  Plot.text(["Age (kyr)"], {frameAnchor: "bottom", dx: -3, dy: 54, text: d => d, fontSize: 20, fill: "black"})
]);

// axis titles (rotated)
const titles = [
  [61,108,"LR04 benthic","#0000ff"],[85,115,"δ<sup>18</sup>O (‰ )","#0000ff"],
  [22,422,"55°N","#993366"],[46,393,"ODP 980","#993366"],[70,414,"IRD (lithics/g)","#993366"],
  [22,607,"41°N","#cc3399"],[46,652,"IODP U1313","#cc3399"],[70,651,"Quartz (rel. intensity)","#cc3399"],
  [42,922,"54°N","#006633"],[66,910,"Lake Baikal","#006633"],[90,911,"Magneitc susceptibility (SI)","#006633"],
  [42,1120,"30°S","#00ccff"],[66,1137,"GeoB 3801","#00ccff"],[90,1147,"SST (°C)","#00ccff"],
  [1208,248,"IRD (%)","#990000"],[1232,250,"ODP 984","#990000"],[1256,250,"61°N","#990000"],
  [1203,530,"Bulk δ<sup>18</sup>O (‰ )","#cc3366"],[1228,535,"IODP U1308","#cc3366"],[1254,525,"50°N","#cc3366"],
  [1205,738,"CaCO<sub>3</sub> (%)","#ff0066"],[1231,770,"DSDP 607 / IODP U1313","#ff0066"],[1254,763,"41°N","#ff0066"],
  [1203,1005,"Arboreal pollen (%)","#339966"],[1228,1006,"Greece","#339966"],[1254,1005,"41°N","#339966"]
];
for (const [x, y, t, c] of titles) {
  const d = document.createElement("div");
  d.className = "ttl";
  d.style.left = x + "px"; d.style.top = y + "px"; d.style.color = c;
  d.innerHTML = t;
  chart.appendChild(d);
}
</script>
</body></html>
